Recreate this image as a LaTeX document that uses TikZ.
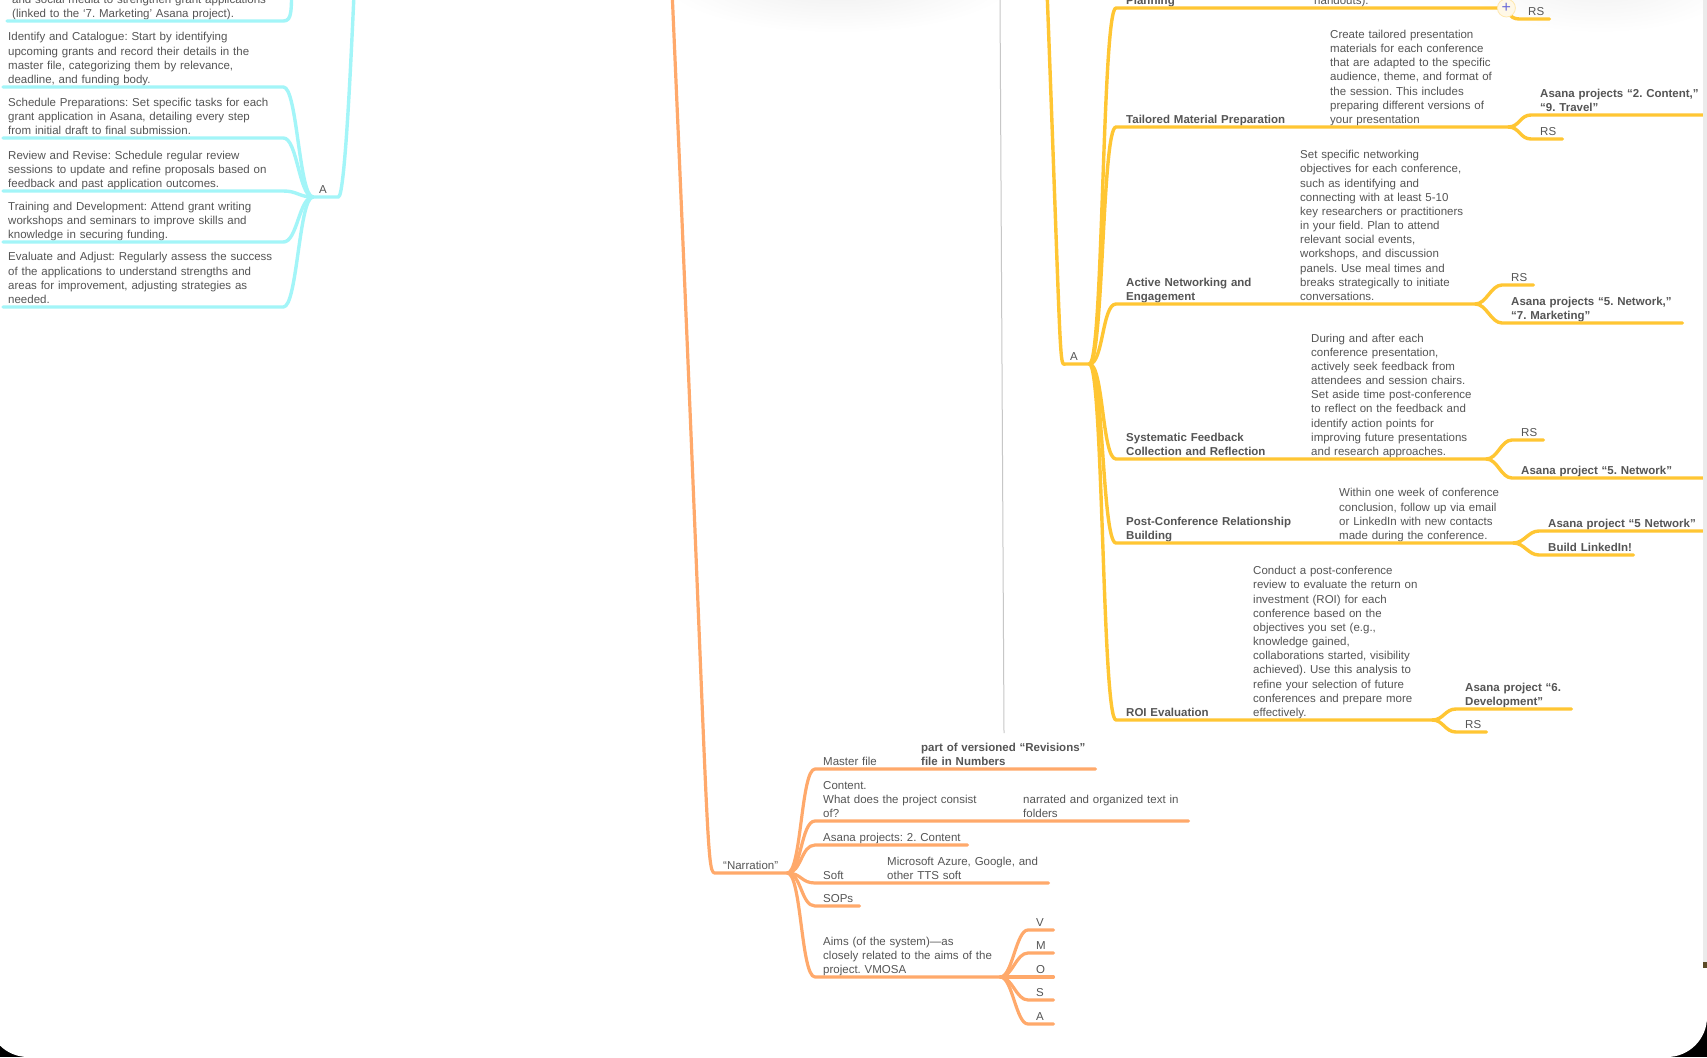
\documentclass[tikz,border=0pt]{standalone}
\usepackage{fontspec}
\setmainfont{Liberation Sans}
\usepackage{tikz}
\usetikzlibrary{calc}
\definecolor{txtgray}{HTML}{555555}
\definecolor{cyanline}{HTML}{A3F5F8}
\definecolor{orangeline}{HTML}{FFA96B}
\definecolor{yellowline}{HTML}{FFC633}
\definecolor{plusblue}{HTML}{6A6AD8}
\definecolor{edgebrown}{HTML}{5A4B28}
\frenchspacing
\newcommand{\mmfont}{\fontsize{11.5}{14.15}\selectfont}
\newcommand{\mmlines}[1]{\begin{tabular}[b]{@{}l@{}}#1\end{tabular}}
\tikzset{
  mm/.style       = {anchor=south west, inner ysep=0pt, text depth=3.5pt,
                     align=left, text=txtgray, font=\mmfont},
  ctext/.style    = {mm, inner xsep=5pt},
  otext/.style    = {mm, inner xsep=8pt},
  ytitle/.style   = {mm, inner xsep=10pt, font=\mmfont\bfseries},
  ydesc/.style    = {mm, inner xsep=10pt},
  yleaf/.style    = {mm, inner xsep=9pt},
  yasana/.style   = {yleaf, font=\mmfont\bfseries},
  cline/.style    = {-, line width=3.4pt, cyanline, line cap=round, line join=round},
  oline/.style    = {-, line width=3.2pt, orangeline, line cap=round, line join=round},
  yline/.style    = {-, line width=3.4pt, yellowline, line cap=round, line join=round},
  rcurve/.style   = {to path={.. controls +(#1,0) and +(-#1,0) .. (\tikztotarget)}},
  rcurve/.default = 14,
  lcurve/.style   = {to path={.. controls +(-#1,0) and +(#1,0) .. (\tikztotarget)}},
  lcurve/.default = 14,
  plusmark/.style = {circle, minimum size=18pt, inner sep=0pt, fill=yellowline!12,
                     draw=yellowline!40, line width=0.8pt, text=plusblue,
                     font=\fontsize{16}{16}\selectfont},
}

\begin{document}
\begin{tikzpicture}[x=1pt, y=-1pt]
    \useasboundingbox (0,0) rectangle (1707,1057);
    \clip (0,0) rectangle (1707,1057);

    % --- window ---
    \fill[black] (0,0) rectangle (1707,1057);
    \fill[white, rounded corners=40pt] (-12,-60) rectangle (1707,1057);
    \shade[inner color=black!7, outer color=white] (838,-22) ellipse [x radius=180, y radius=55];
    \shade[inner color=black!6, outer color=white] (1600,-22) ellipse [x radius=140, y radius=55];
    \draw[black!22, line width=1pt] (1000,0) -- (1004,733);

    % --- grant side (cyan) ---
    \coordinate (cUp) at (292,-15);
    \coordinate (cTrunk) at (354,-5);
    \node[ctext, text width=266pt] (cTop) at (7,21)
      {\mmlines{and social media to strengthen grant applications\\
       (linked to the ‘7. Marketing’ Asana project).}};
    \node[ctext, text width=270pt] (cId) at (3,87)
      {\mmlines{Identify and Catalogue: Start by identifying\\
       upcoming grants and record their details in the\\
       master file, categorizing them by relevance,\\
       deadline, and funding body.}};
    \node[ctext, text width=270pt] (cSched) at (3,138)
      {\mmlines{Schedule Preparations: Set specific tasks for each\\
       grant application in Asana, detailing every step\\
       from initial draft to final submission.}};
    \node[ctext, text width=270pt] (cReview) at (3,191)
      {\mmlines{Review and Revise: Schedule regular review\\
       sessions to update and refine proposals based on\\
       feedback and past application outcomes.}};
    \node[ctext, text width=270pt] (cTrain) at (3,242)
      {\mmlines{Training and Development: Attend grant writing\\
       workshops and seminars to improve skills and\\
       knowledge in securing funding.}};
    \node[ctext, text width=270pt] (cEval) at (3,307)
      {\mmlines{Evaluate and Adjust: Regularly assess the success\\
       of the applications to understand strengths and\\
       areas for improvement, adjusting strategies as\\
       needed.}};
    \node[ctext, inner xsep=6pt, text width=13pt] (cA) at (313,197) {A};

    \draw[cline] (cTop.south west) -- (cTop.south east)
      .. controls +(9,0) and +(-1,25) .. (cUp);
    \draw[cline] (cA.south west) -- (cA.south east)
      .. controls +(7,0) and +(-2,40) .. (cTrunk);
    \foreach \leaf in {cId, cSched, cReview, cTrain, cEval}
      \draw[cline] (cA.south west) to[lcurve] (\leaf.south east) -- (\leaf.south west);

    % --- narration (orange) ---
    \coordinate (oUp) at (672,-10);
    \node[otext, inner xsep=6pt, text width=58pt] (narr) at (717,873) {\mmlines{“Narration”}};
    \node[otext, text width=82pt] (nMaster) at (815,769) {\mmlines{Master file}};
    \node[otext, text width=166pt, font=\mmfont\bfseries] (nRev) at (913,769)
      {\mmlines{part of versioned “Revisions”\\ file in Numbers}};
    \node[otext, text width=184pt] (nContent) at (815,821)
      {\mmlines{Content.\\ What does the project consist\\ of?}};
    \node[otext, text width=157pt] (nFolders) at (1015,821)
      {\mmlines{narrated and organized text in\\ folders}};
    \node[otext, text width=136pt] (nAsana) at (815,845) {\mmlines{Asana projects: 2. Content}};
    \node[otext, text width=48pt] (nSoft) at (815,883) {Soft};
    \node[otext, text width=153pt] (nTTS) at (879,883)
      {\mmlines{Microsoft Azure, Google, and\\ other TTS soft}};
    \node[otext, text width=28pt] (nSops) at (815,906) {SOPs};
    \node[otext, text width=169pt] (nAims) at (815,977)
      {\mmlines{Aims (of the system)—as\\ closely related to the aims of the\\ project. VMOSA}};
    \foreach \letter/\yy in {V/930, M/953, O/977, S/1000, A/1024}
      \node[otext, text width=9pt] (v\letter) at (1028,\yy) {\letter};

    \draw[oline] (oUp) .. controls (712,900) and (705,873) .. (narr.south west)
      -- (narr.south east);
    \foreach \leaf/\tip in {nMaster/nRev, nContent/nFolders, nAsana/nAsana,
                            nSoft/nTTS, nSops/nSops, nAims/nAims}
      \draw[oline] (narr.south east) to[rcurve] (\leaf.south west) -- (\tip.south east);
    \foreach \letter in {V, M, O, S, A}
      \draw[oline] (nAims.south east) to[rcurve=12] (v\letter.south west)
        -- (v\letter.south east);

    % --- conference side (yellow) ---
    \coordinate (yUp) at (1047,-10);
    \node[mm, inner xsep=4pt, text width=15pt] (yA) at (1066,364) {A};

    \node[ytitle, text width=168pt] (yPlan) at (1116,8) {Planning};
    \node[ydesc, text width=173pt] (yPlanDesc) at (1304,8) {handouts).};
    \node[yleaf, text width=12pt] (yPlanRS) at (1519,19) {RS};

    \node[ytitle, text width=184pt] (yTail) at (1116,127) {\mmlines{Tailored Material Preparation}};
    \node[ydesc, text width=168pt] (yTailDesc) at (1320,127)
      {\mmlines{Create tailored presentation\\ materials for each conference\\
       that are adapted to the specific\\ audience, theme, and format of\\
       the session. This includes\\ preparing different versions of\\ your presentation}};
    \node[yasana, text width=181pt] (yTailAsana) at (1531,115)
      {\mmlines{Asana projects “2. Content,”\\ “9. Travel”}};
    \node[yleaf, text width=13pt] (yTailRS) at (1531,139) {RS};

    \node[ytitle, text width=154pt] (yNet) at (1116,304)
      {\mmlines{Active Networking and\\ Engagement}};
    \node[ydesc, text width=165pt] (yNetDesc) at (1290,304)
      {\mmlines{Set specific networking\\ objectives for each conference,\\
       such as identifying and\\ connecting with at least 5-10\\
       key researchers or practitioners\\ in your field. Plan to attend\\
       relevant social events,\\ workshops, and discussion\\
       panels. Use meal times and\\ breaks strategically to initiate\\ conversations.}};
    \node[yleaf, text width=13pt] (yNetRS) at (1502,285) {RS};
    \node[yasana, text width=162pt] (yNetAsana) at (1502,323)
      {\mmlines{Asana projects “5. Network,”\\ “7. Marketing”}};

    \node[ytitle, text width=165pt] (yFeed) at (1116,459)
      {\mmlines{Systematic Feedback\\ Collection and Reflection}};
    \node[ydesc, text width=165pt] (yFeedDesc) at (1301,459)
      {\mmlines{During and after each\\ conference presentation,\\
       actively seek feedback from\\ attendees and session chairs.\\
       Set aside time post-conference\\ to reflect on the feedback and\\
       identify action points for\\ improving future presentations\\
       and research approaches.}};
    \node[yleaf, text width=13pt] (yFeedRS) at (1512,440) {RS};
    \node[yasana, text width=200pt] (yFeedAsana) at (1512,478) {\mmlines{Asana project “5. Network”}};

    \node[ytitle, text width=193pt] (yPost) at (1116,543)
      {\mmlines{Post-Conference Relationship\\ Building}};
    \node[ydesc, text width=164pt] (yPostDesc) at (1329,543)
      {\mmlines{Within one week of conference\\ conclusion, follow up via email\\
       or LinkedIn with new contacts\\ made during the conference.}};
    \node[yasana, text width=173pt] (yPostAsana) at (1539,531) {\mmlines{Asana project “5 Network”}};
    \node[yasana, text width=76pt] (yPostLi) at (1539,555) {\mmlines{Build LinkedIn!}};

    \node[ytitle, text width=107pt] (yRoi) at (1116,720) {\mmlines{ROI Evaluation}};
    \node[ydesc, text width=169pt] (yRoiDesc) at (1243,720)
      {\mmlines{Conduct a post-conference\\ review to evaluate the return on\\
       investment (ROI) for each\\ conference based on the\\
       objectives you set (e.g.,\\ knowledge gained,\\
       collaborations started, visibility\\ achieved). Use this analysis to\\
       refine your selection of future\\ conferences and prepare more\\ effectively.}};
    \node[yasana, text width=97pt] (yRoiAsana) at (1456,709)
      {\mmlines{Asana project “6.\\ Development”}};
    \node[yleaf, text width=12pt] (yRoiRS) at (1456,732) {RS};

    \draw[yline] (yUp) .. controls (1062,385) and (1059,364) .. (yA.south west)
      -- (yA.south east);
    \foreach \leaf/\tip in {yPlan/yPlanDesc, yTail/yTailDesc, yNet/yNetDesc,
                            yFeed/yFeedDesc, yPost/yPostDesc, yRoi/yRoiDesc}
      \draw[yline] (yA.south east) to[rcurve] (\leaf.south west) -- (\tip.south east);
    \foreach \desc/\leaf in {yPlanDesc/yPlanRS, yTailDesc/yTailAsana, yTailDesc/yTailRS,
                             yNetDesc/yNetRS, yNetDesc/yNetAsana, yFeedDesc/yFeedRS,
                             yFeedDesc/yFeedAsana, yPostDesc/yPostAsana, yPostDesc/yPostLi,
                             yRoiDesc/yRoiAsana, yRoiDesc/yRoiRS}
      \draw[yline] (\desc.south east) to[rcurve=11] (\leaf.south west) -- (\leaf.south east);
    \node[plusmark] (planPlus) at ([xshift=9pt]yPlanDesc.south east) {+};

    % --- right window edge ---
    \fill[black!8] (1703,0) rectangle (1707,962);
    \fill[edgebrown] (1703,962) rectangle (1707,968);
\end{tikzpicture}
\end{document}
